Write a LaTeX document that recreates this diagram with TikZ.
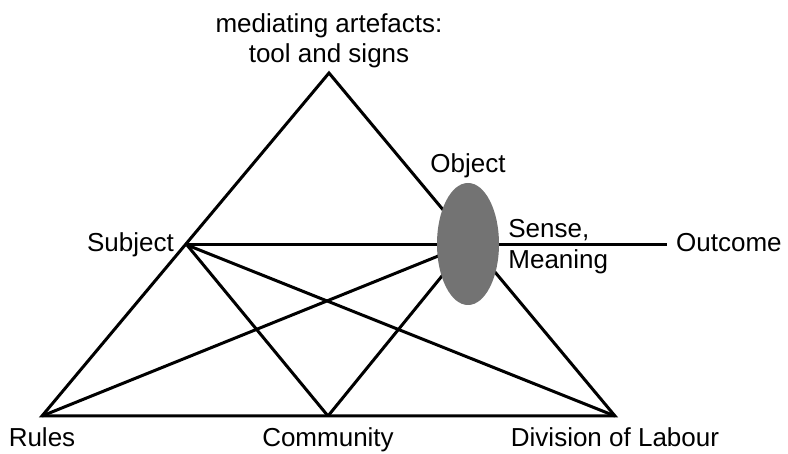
\documentclass[tikz,border=0pt]{standalone}
\usepackage{fontspec}
\setmainfont{Liberation Sans}
\usetikzlibrary{backgrounds, shapes.geometric, positioning}
\tikzset{%
  % Specifications for style of nodes:
            word/.style = {inner sep=0pt, font=\fontsize{26}{30}\selectfont,
                            text height=19pt, text depth=5pt},
            words/.style = {inner sep=0pt, font=\fontsize{26}{30}\selectfont},
            focus/.style = {ellipse, fill=black!55, minimum width=62pt,
                            minimum height=122pt, inner sep=0pt},
            edge/.style = {line width=3pt, black}
}

\begin{document}
\begin{tikzpicture}[x=1pt, y=1pt, node distance=11pt]
                        \useasboundingbox (0,0) rectangle (788,453);
                        % corners of the triangle
                        \coordinate (tool) at (329,380);
                        \coordinate (subj) at (187,208);
                        \coordinate (rule) at (42,37);
                        \coordinate (comm) at (328,37);
                        \coordinate (divi) at (615,37);
                        \coordinate (outc) at (667,208);
                        \node[focus] (obj) at (468,209) {};
                        % labels
                        \node[words, align=center, above=5pt of tool] (toollbl) {mediating artefacts:\\tool and signs};
                        \node[word, left=13pt of subj] (subjlbl) {Subject};
                        \node[word, below=of rule] (rulelbl) {Rules};
                        \node[word, below=of comm] (commlbl) {Community};
                        \node[word, below=of divi] (divilbl) {Division of Labour};
                        \node[word, right=9pt of outc] (outclbl) {Outcome};
                        \node[word, above=5pt of obj] (objlbl) {Object};
                        \node[words, align=left, right=9pt of obj, yshift=-3pt] (senselbl) {Sense,\\[1pt]Meaning};
                        \begin{scope}[on background layer]
                        \draw[edge] (tool) -- (rule) -- (divi) -- cycle;
                        \draw[edge] (subj) -- (outc);
                        \draw[edge] (subj) -- (comm);
                        \draw[edge] (subj) -- (divi);
                        \draw[edge] (rule) -- (obj.center);
                        \draw[edge] (comm) -- (obj.center);
                        \end{scope}
                    \end{tikzpicture}
\end{document}
